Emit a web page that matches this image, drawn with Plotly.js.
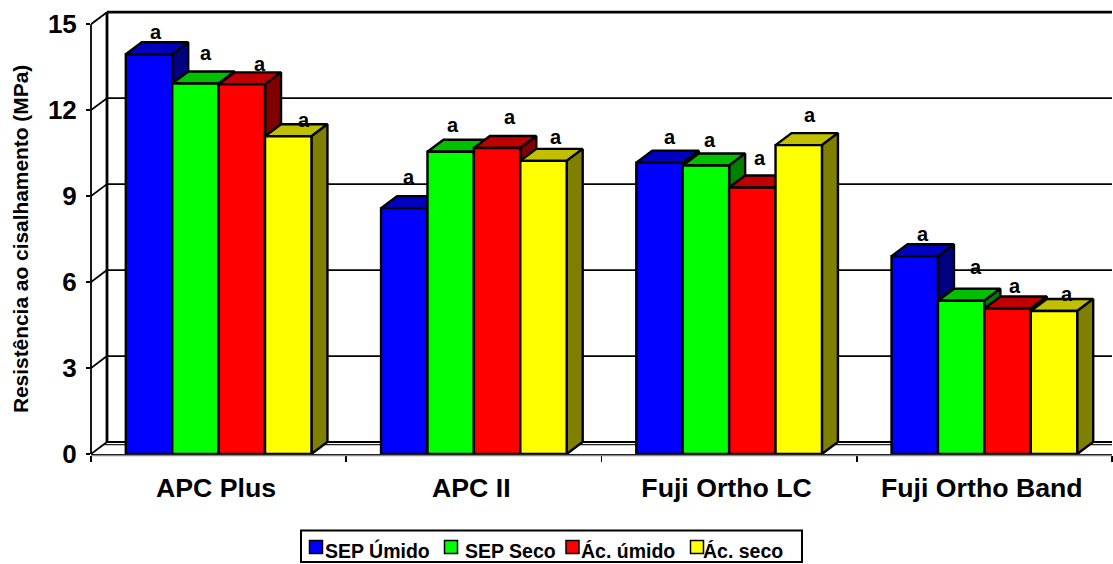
<!DOCTYPE html>
<html><head><meta charset="utf-8">
<script src="https://cdn.plot.ly/plotly-3.0.0.min.js"></script>
<style>html,body{margin:0;padding:0;background:#fff}#c{width:1113px;height:564px}</style>
</head><body><div id="c"></div>
<script>
const categories = ["APC Plus","APC II","Fuji Ortho LC","Fuji Ortho Band"];
const sepUmido = [13.95,8.58,10.17,6.90];
const sepSeco  = [12.93,10.55,10.07,5.35];
const acUmido  = [12.90,10.68,9.30,5.08];
const acSeco   = [11.09,10.23,10.78,4.99];
const seriesNames = ["SEP Úmido","SEP Seco","Ác. úmido","Ác. seco"];
const yTicks = [0,3,6,9,12,15];
const yTitle = "Resistência ao cisalhamento (MPa)";
const letter = "a";

const seriesValues = [sepUmido,sepSeco,acUmido,acSeco];
const front = ["#0000FF","#00FF00","#FF0000","#FFFF00"];
const top3d = ["#0000C0","#00C000","#C00000","#C0C000"];
const side  = ["#000080","#008000","#800000","#808000"];

// Page geometry of the plot
const yMax=15.6;
const L=91,R=1112,B=454.5,perVal=430/15,T=B-yMax*perVal,W=R-L,H=B-T;
const perCat=W/4;
const depthX=16/perCat, depthY=12/perVal;     // oblique depth in axis units
const bargap=0.2727, barW=(1-bargap)/4;
const font="Liberation Sans, Arial, sans-serif";
const px=x=>(x-L)/W, py=y=>(B-y)/H;

const traces=[];
function poly(xs,ys,fill,lw,color,closed){
  traces.push({type:'scatter',mode:'lines',x:xs,y:ys,showlegend:false,hoverinfo:'skip',
    fill:closed?'toself':'none',fillcolor:fill||undefined,line:{color:color||'#000',width:lw,simplify:false}});
}
const xMin=-0.5,xMax=3.5;
// walls
yTicks.forEach(v=>{
  poly([xMin,xMin+depthX],[v,v+depthY],null,1.8);
  poly([xMin+depthX,xMax+depthX],[v+depthY,v+depthY],null,v===15?2.8:1.8);
});
poly([xMin+depthX*0.8,xMax+depthX],[depthY*0.78,depthY*0.78],null,1.2,'#222');
poly([xMin+depthX,xMin+depthX],[depthY,15+depthY],null,2.8);

// 3-D top and side faces, painted left to right
categories.forEach((c,g)=>{
  seriesValues.forEach((vals,i)=>{
    const xl=g-0.5+bargap/2+i*barW, xr=xl+barW, v=vals[g];
    poly([xl,xr,xr+depthX,xl+depthX,xl],[v,v,v+depthY,v+depthY,v],top3d[i],2.4,'#000',true);
    poly([xr,xr,xr+depthX,xr+depthX,xr],[0,v,v+depthY,depthY,0],side[i],2.4,'#000',true);
  });
});
// front faces drawn in the overlaying subplot
seriesValues.forEach((vals,i)=>{
  traces.push({type:'bar',name:seriesNames[i],x:[0,1,2,3],y:vals,xaxis:'x2',yaxis:'y2',
    marker:{color:front[i],line:{color:'#000',width:2.4}},showlegend:false,hoverinfo:'y+name'});
});

// "a" labels: page offsets from each bar's top centre
const labelDx=[[7,10.6,18,16],[5,2,13,12.5],[10.5,4,8,11],[8,15,7.5,13]];
const labelDy=[[22,31,20,16],[31,27,31,24],[26,25,30,30],[22,34,22,17]];
const annotations=[];
categories.forEach((c,g)=>seriesValues.forEach((vals,i)=>{
  annotations.push({xref:'x',yref:'y',x:g-0.5+bargap/2+(i+0.5)*barW,y:vals[g],text:letter,showarrow:false,
    xanchor:'center',yanchor:'middle',xshift:labelDx[g][i],yshift:labelDy[g][i],font:{family:font,size:20,color:'#000',weight:700}});
}));
annotations.push({xref:'paper',yref:'paper',x:px(20.5),y:py(240),text:yTitle,textangle:-90,showarrow:false,xanchor:'center',yanchor:'middle',
  font:{family:font,size:20.9,weight:700,color:'#000'}});

// axis line, lower rule and legend box
const shapes=[
  {type:'line',xref:'paper',yref:'y',x0:0,x1:0,y0:0,y1:15,line:{color:'#000',width:1.8}},
  {type:'line',xref:'paper',yref:'paper',x0:0,x1:1,y0:py(456),y1:py(456),line:{color:'#8a8a8a',width:1.6}},
  {type:'rect',xref:'paper',yref:'paper',x0:px(301),x1:px(802),y0:py(562.5),y1:py(531),line:{color:'#000',width:2},fillcolor:'#fff'}];
const swatchX=[309.5,444.5,566,690.5], textX=[325,465,581,703];
seriesNames.forEach((n,i)=>{
  shapes.push({type:'rect',xref:'paper',yref:'paper',x0:px(swatchX[i]),x1:px(swatchX[i]+13),y0:py(554),y1:py(541),line:{color:'#000',width:1.5},fillcolor:front[i]});
  annotations.push({xref:'paper',yref:'paper',x:px(textX[i]),y:py(551.5),text:n,showarrow:false,xanchor:'left',yanchor:'middle',xshift:-2,
    font:{family:font,size:19.5,color:'#000',weight:700}});
});

const layout={
  width:1113,height:564,autosize:false,showlegend:false,
  margin:{l:L,r:1113-R,t:T,b:564-B,pad:0},
  paper_bgcolor:'#fff',plot_bgcolor:'#fff',
  barmode:'group',bargap:bargap,bargroupgap:0,
  font:{family:font,color:'#000'},
  xaxis:{range:[xMin,xMax],tickmode:'array',tickvals:[-0.01,0.99,1.99,2.99],ticktext:categories,ticks:'',showgrid:false,zeroline:false,
    showline:true,linecolor:'#000',linewidth:2,ticklabelstandoff:9,
    tickfont:{family:font,size:26.7,weight:700,color:'#000'},
    minor:{tickmode:'array',tickvals:[-0.5,0.5,1.5,2.5,3.5],ticks:'outside',ticklen:6,tickwidth:1.6,tickcolor:'#000',showgrid:false}},
  yaxis:{range:[0,yMax],tickmode:'array',tickvals:yTicks,ticks:'outside',ticklen:4,tickwidth:1.6,tickcolor:'#000',showgrid:false,zeroline:false,
    showline:false,ticklabelstandoff:4,
    tickfont:{family:font,size:26,weight:700,color:'#000'}},
  xaxis2:{range:[xMin,xMax],overlaying:'x',visible:false,anchor:'y2'},
  yaxis2:{range:[0,yMax],overlaying:'y',visible:false,anchor:'x2'},
  annotations:annotations,shapes:shapes
};
Plotly.newPlot('c',traces,layout,{displayModeBar:false,staticPlot:true});
</script></body></html>
